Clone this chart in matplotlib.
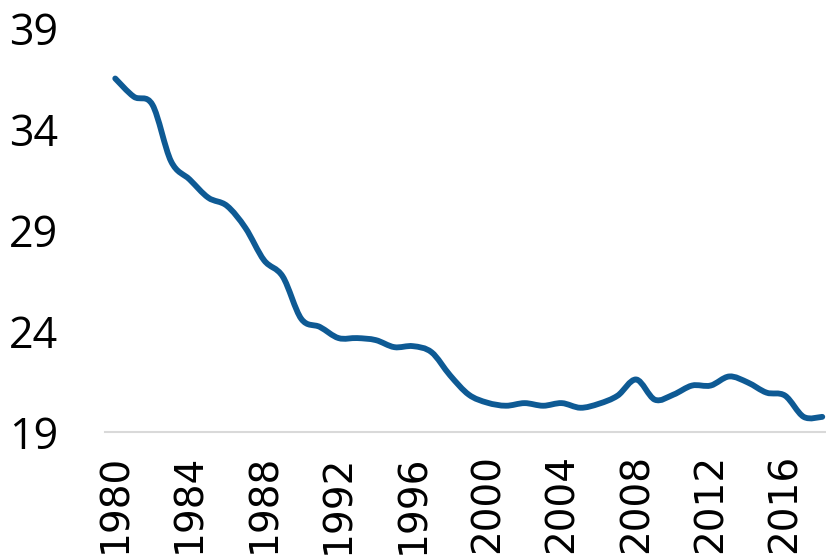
import matplotlib
matplotlib.use("Agg")
import matplotlib.pyplot as plt
from matplotlib.path import Path
from matplotlib.patches import PathPatch
import numpy as np

years = list(range(1980, 2019))
values = [36.5, 35.6, 35.2, 32.4, 31.5, 30.6, 30.2, 29.1, 27.5, 26.7,
          24.6, 24.2, 23.65, 23.65, 23.55, 23.2, 23.25, 22.95, 21.8, 20.85,
          20.45, 20.3, 20.43, 20.3, 20.43, 20.2, 20.4, 20.8, 21.6, 20.6,
          20.85, 21.3, 21.3, 21.75, 21.45, 20.95, 20.8, 19.75, 19.75]
y_ticks = [19, 24, 29, 34, 39]
x_ticks = list(range(1980, 2017, 4))

LINE_COLOR = '#0E5A94'


def smooth_path(x, y):
    # excel-style smoothed line: cubic bezier through every point
    pts = np.column_stack([x, y]).astype(float)
    n = len(pts)
    verts = [pts[0]]
    codes = [Path.MOVETO]
    for i in range(n - 1):
        p0 = pts[i - 1] if i > 0 else pts[i]
        p1 = pts[i]
        p2 = pts[i + 1]
        p3 = pts[i + 2] if i + 2 < n else pts[i + 1]
        c1 = p1 + (p2 - p0) / 6.0
        c2 = p2 - (p3 - p1) / 6.0
        verts += [c1, c2, p2]
        codes += [Path.CURVE4] * 3
    return Path(verts, codes)


fig = plt.figure(figsize=(8.26, 5.59), dpi=100)
ax = fig.add_axes([105 / 826, 127 / 559, 721 / 826, 404 / 559])

patch = PathPatch(smooth_path(years, values), facecolor='none',
                  edgecolor=LINE_COLOR, lw=4.2, capstyle='round',
                  joinstyle='round', clip_on=False)
ax.add_patch(patch)

ax.set_xlim(1979.45, 2018.2)
ax.set_ylim(19, 39)
ax.set_yticks(y_ticks)
ax.set_xticks(x_ticks)
ax.set_yticklabels([str(v) for v in y_ticks], fontsize=31, family='Open Sans')
ax.set_xticklabels([str(v) for v in x_ticks], fontsize=28, rotation=90,
                   family='DejaVu Sans')
ax.tick_params(axis='y', length=0, pad=34)
ax.tick_params(axis='x', length=0, pad=16)

for s in ['top', 'right', 'left']:
    ax.spines[s].set_visible(False)
ax.spines['bottom'].set_color('#D9D9D9')
ax.spines['bottom'].set_linewidth(1.5)

plt.savefig('out.png', dpi=100)
